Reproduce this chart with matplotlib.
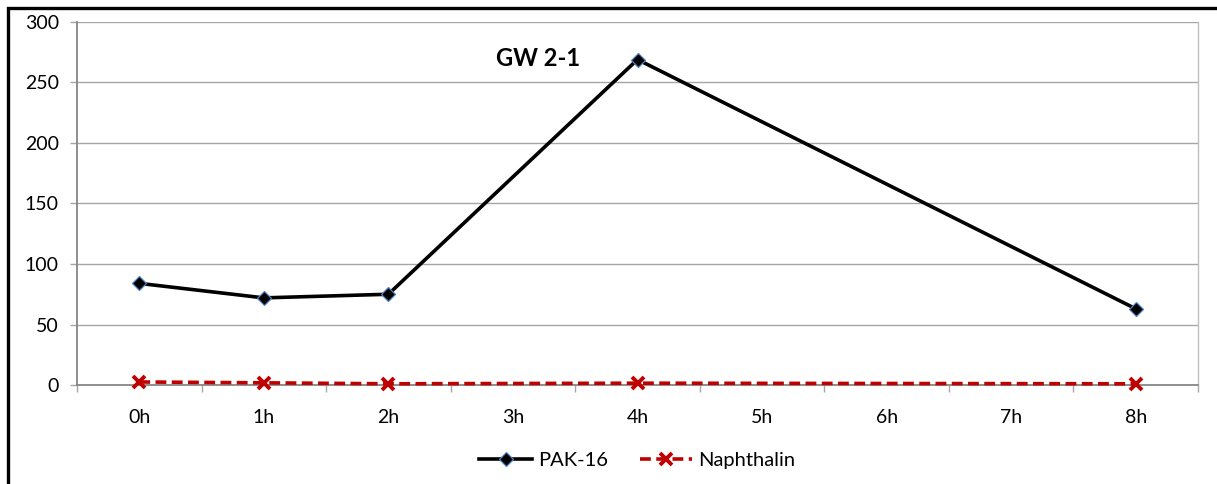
import matplotlib.pyplot as plt
from matplotlib.patches import Rectangle

# Datos del gráfico
categorias = ['0h', '1h', '2h', '3h', '4h', '5h', '6h', '7h', '8h']
x_medidos = [0, 1, 2, 4, 8]
pak16 = [84, 72, 75, 269, 63]
naftalina = [2.5, 1.8, 1.0, 1.5, 1.0]
titulo = 'GW 2-1'

plt.rcParams['font.family'] = ['Lato', 'DejaVu Sans']

fig = plt.figure(figsize=(12.17, 4.84), dpi=100)
ax = fig.add_axes([77 / 1217, 1 - 385 / 484, (1198 - 77) / 1217, (385 - 22) / 484])

# Marco exterior negro (recortado como en la imagen original)
fig.patches.append(Rectangle((8 / 1217, -0.1), 1.2, (484 - 8) / 484 + 0.1,
                             transform=fig.transFigure, fill=False,
                             edgecolor='black', linewidth=2.4, zorder=10))

gris = '#a6a6a6'
ax.set_ylim(0, 300)
ax.set_xlim(-0.5, len(categorias) - 0.5)
ax.set_yticks(range(0, 301, 50))
ax.set_xticks(range(len(categorias)))
ax.set_xticklabels(categorias)
ax.set_xticks([i - 0.5 for i in range(len(categorias) + 1)], minor=True)
ax.tick_params(axis='x', which='major', length=0, pad=17, labelsize=14)
ax.tick_params(axis='x', which='minor', length=5, color=gris, width=1)
ax.tick_params(axis='y', length=5, color=gris, width=1, pad=8, labelsize=14)
ax.grid(axis='y', color=gris, linewidth=1)
ax.set_axisbelow(True)
for lado in ['left', 'bottom']:
    ax.spines[lado].set_color('#868686')
    ax.spines[lado].set_linewidth(1.3)
ax.spines['top'].set_visible(False)
ax.spines['right'].set_color('#c0c0c0')
ax.spines['right'].set_linewidth(1)

ax.plot(x_medidos, pak16, color='black', linewidth=2.6, marker='D',
        markersize=7.5, markerfacecolor='black', markeredgecolor='#4f81bd',
        markeredgewidth=0.9, label='PAK-16', zorder=3, clip_on=False)
ax.plot(x_medidos, naftalina, color='#c00000', linewidth=2.6, linestyle=(0, (3, 1.5)),
        marker='x', markersize=9, markeredgewidth=2.8, label='Naphthalin',
        zorder=3, clip_on=False)

ax.text(3.2, 270, titulo, fontsize=17, fontweight='bold', ha='center', va='center')

ax.legend(loc='upper center', bbox_to_anchor=(0.5, -0.135), ncol=2, frameon=False,
          fontsize=14.5, handlelength=2.6, columnspacing=1.6, handletextpad=0.3)

fig.savefig('out.png', dpi=100)
